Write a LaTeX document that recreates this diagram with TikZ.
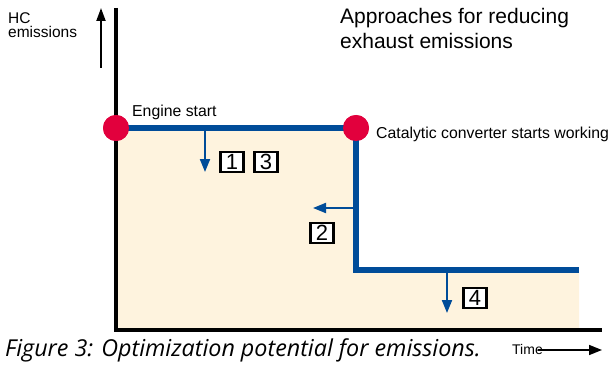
\documentclass[tikz,border=0pt]{standalone}
\usepackage{fontspec}
\setmainfont{Liberation Sans}
\newfontfamily\captionfont{Open Sans}
\usetikzlibrary{arrows.meta}

\definecolor{curveblue}{RGB}{0,76,153}
\definecolor{dotred}{RGB}{226,0,61}
\definecolor{areacream}{RGB}{254,243,222}

\tikzset{
	axis/.style={black, line width=4pt},
	curve/.style={curveblue, line width=6pt},
	reduce/.style={curveblue, line width=2pt, -{Triangle[width=10pt,length=13pt]}},
	event/.style={circle, fill=dotred, minimum size=26pt, inner sep=0pt},
	approach/.style={draw=black, line width=2.3pt, fill=white, minimum width=23pt,
		minimum height=20pt, inner sep=0pt, font=\fontsize{22}{22}\selectfont},
	label/.style={anchor=base west, inner sep=0pt, font=\fontsize{15.8}{15.8}\selectfont},
}

\begin{document}
\begin{tikzpicture}[x=1pt,y=-1pt]
\useasboundingbox (0,0) rectangle (614,369);

\fill [areacream] (116,128) -- (356,128) -- (356,270) -- (579,270) -- (579,329) -- (116,329) -- cycle;

\coordinate (ytop) at (116,8);
\coordinate (origin) at (116,331);
\coordinate (xend) at (602,330);
\draw [axis] (ytop) -- (origin);
\draw [axis] (114,330) -- (xend);

\coordinate (hcfoot) at (101,68);
\coordinate (hctip) at (101,8);
\draw [black, line width=2pt, -{Triangle[width=9pt,length=13pt]}] (hcfoot) -- (hctip);
\node [label, align=left, anchor=north west, font=\fontsize{15.5}{14.5}\selectfont] (hc) at (8,12) {HC\\emissions};

\node [label, font=\fontsize{21}{25}\selectfont, anchor=north west, align=left] (title) at (340,8) {Approaches for reducing\\exhaust emissions};

\node [event] (start) at (116,128) {};
\node [event] (cat) at (356,128) {};
\coordinate (kink) at (356,270);
\coordinate (curveend) at (579,270);
\draw [curve] (start.center) -- (cat.center) -- (kink) -- (curveend);
\node [event] at (start) {};
\node [event] at (cat) {};

\node [label] (startlbl) at (132,117) {Engine start};
\node [label] (catlbl) at (376,139) {Catalytic converter starts working};

\coordinate (a13) at (205,131);
\coordinate (a13tip) at (205,172);
\draw [reduce] (a13) -- (a13tip);
\coordinate (a2) at (353,208);
\coordinate (a2tip) at (313,208);
\draw [reduce] (a2) -- (a2tip);
\coordinate (a4) at (447,273);
\coordinate (a4tip) at (447,313);
\draw [reduce] (a4) -- (a4tip);

\foreach \num / \x / \y in {1/232/162, 3/266/162, 2/322/233, 4/475/298}
	\node [approach] (box\num) at (\x,\y) {\num};

\node [label, font=\fontsize{14}{14}\selectfont] (time) at (512,354) {Time};
\coordinate (timefoot) at (538,350);
\coordinate (timetip) at (602,350);
\draw [black, line width=1.6pt, -{Triangle[width=10pt,length=13pt]}] (timefoot) -- (timetip);

\node [label, font=\captionfont\itshape\fontsize{23.3}{23.3}\selectfont] (caption) at (5,356) {Figure 3: Optimization potential for emissions.};
\end{tikzpicture}
\end{document}
